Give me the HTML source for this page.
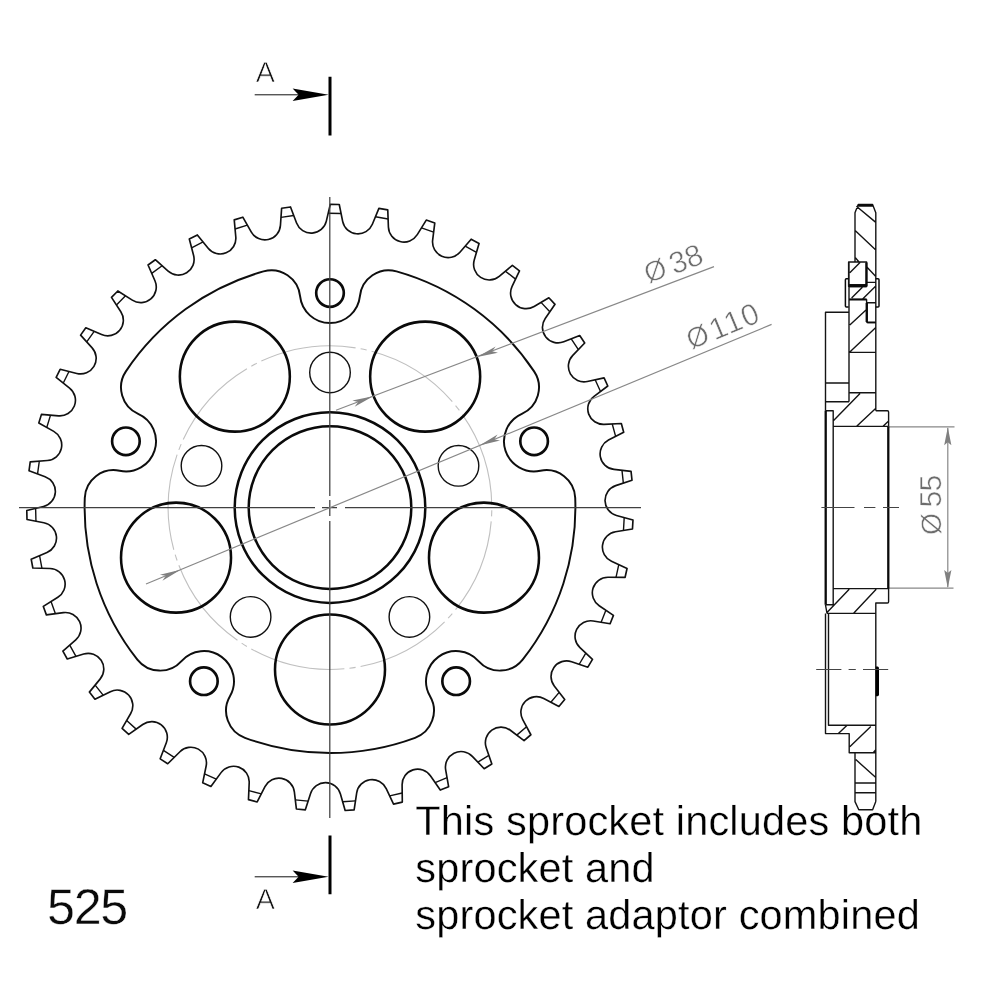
<!DOCTYPE html>
<html lang="en">
<head>
<meta charset="utf-8">
<title>Sprocket 525 drawing</title>
<style>
html,body{margin:0;padding:0;background:#fff;}
body{width:1000px;height:1000px;overflow:hidden;font-family:"Liberation Sans",sans-serif;}
svg{display:block;}
text{text-rendering:geometricPrecision;}
svg{filter:grayscale(1);}
</style>
</head>
<body>
<svg width="1000" height="1000" viewBox="0 0 1000 1000">
<rect width="1000" height="1000" fill="#fff"/>
<path d="M330.26,204.37L339.26,204.51L342.65,221.32A15.6,15.6 0 0 0 372.36,224.19L378.9,208.34L387.76,209.92L388.4,227.06A15.6,15.6 0 0 0 417.27,234.66L426.27,220.06L434.76,223.04L432.65,240.06A15.6,15.6 0 0 0 459.93,252.19L471.15,239.22L479.05,243.53L474.24,259.99A15.6,15.6 0 0 0 499.22,276.34L512.38,265.34L519.48,270.86L512.09,286.34A15.6,15.6 0 0 0 534.12,306.48L548.87,297.73L555.01,304.32L545.22,318.41A15.6,15.6 0 0 0 563.74,341.83L579.71,335.56L584.7,343.05L572.78,355.38A15.6,15.6 0 0 0 587.3,381.47L604.07,377.84L607.8,386.03L594.06,396.3A15.6,15.6 0 0 0 604.2,424.38L621.33,423.49L623.7,432.17L608.49,440.1A15.6,15.6 0 0 0 614,469.44L631.05,471.31L632,480.26L615.71,485.65A15.6,15.6 0 0 0 616.45,515.49L632.98,520.07L632.47,529.06L615.53,531.76A15.6,15.6 0 0 0 611.47,561.34L627.05,568.51L625.11,577.3L607.96,577.25A15.6,15.6 0 0 0 599.21,605.79L613.43,615.37L610.11,623.74L593.19,620.94A15.6,15.6 0 0 0 579.97,647.71L592.48,659.44L587.85,667.17L571.6,661.69A15.6,15.6 0 0 0 554.26,685.99L564.72,699.58L558.92,706.46L543.75,698.45A15.6,15.6 0 0 0 522.74,719.65L530.88,734.75L524.05,740.61L510.37,730.27A15.6,15.6 0 0 0 486.23,747.82L491.85,764.03L484.16,768.72L472.32,756.32A15.6,15.6 0 0 0 445.67,769.77L448.62,786.67L440.28,790.07L430.58,775.92A15.6,15.6 0 0 0 402.11,784.93L402.31,802.08L393.54,804.1L386.23,788.58A15.6,15.6 0 0 0 356.69,792.91L354.14,809.87L345.16,810.45L340.43,793.97A15.6,15.6 0 0 0 310.58,793.5L305.34,809.83L296.38,808.96L294.36,791.93A15.6,15.6 0 0 0 264.97,786.68L257.18,801.96L248.47,799.67L249.21,782.53A15.6,15.6 0 0 0 221.05,772.63L210.9,786.47L202.68,782.81L206.15,766.01A15.6,15.6 0 0 0 179.94,751.72L167.71,763.75L160.18,758.82L166.31,742.8A15.6,15.6 0 0 0 142.73,724.49L128.72,734.4L122.08,728.33L130.7,713.49A15.6,15.6 0 0 0 110.36,691.64L94.95,699.17L89.37,692.11L100.25,678.86A15.6,15.6 0 0 0 83.68,654.03L67.26,658.99L62.88,651.12L75.75,639.79A15.6,15.6 0 0 0 63.38,612.62L46.38,614.88L43.32,606.42L57.84,597.29A15.6,15.6 0 0 0 49.99,568.49L32.84,568L31.18,559.15L46.98,552.47A15.6,15.6 0 0 0 43.85,522.78L27,519.55L26.78,510.55L43.45,506.49A15.6,15.6 0 0 0 45.12,476.68L29.01,470.79L30.23,461.87L47.34,460.54A15.6,15.6 0 0 0 53.77,431.39L38.81,422.98L41.45,414.38L58.55,415.81A15.6,15.6 0 0 0 69.57,388.06L56.16,377.37L60.14,369.3L76.79,373.45A15.6,15.6 0 0 0 92.12,347.83L80.59,335.13L85.82,327.8L101.58,334.57A15.6,15.6 0 0 0 120.83,311.74L111.49,297.35L117.83,290.96L132.3,300.17A15.6,15.6 0 0 0 154.95,280.73L148.05,265.02L155.32,259.73L168.13,271.14A15.6,15.6 0 0 0 193.61,255.58L189.31,238.98L197.35,234.92L208.16,248.24A15.6,15.6 0 0 0 235.8,236.97L234.23,219.89L242.81,217.17L251.34,232.05A15.6,15.6 0 0 0 280.44,225.36L281.62,208.25L290.52,206.95L296.56,223A15.6,15.6 0 0 0 326.35,221.07Z" fill="none" stroke="#111" stroke-width="1.65" stroke-linejoin="round"/>
<path d="M328.19,213.24L341.06,213.44M375.43,216.76L388.1,219.02M421.5,227.81L433.64,232.08M465.19,246.11L476.5,252.27M505.39,271.18L515.56,279.08M541.04,302.38L549.81,311.8M571.23,338.89L578.37,349.6M595.17,379.77L600.5,391.49M612.24,423.96L615.63,436.38M622,470.32L623.35,483.12M624.2,517.64L623.48,530.5M618.78,564.7L616.01,577.28M605.88,610.29L601.13,622.25M585.83,653.21L579.22,664.26M559.16,692.36L550.87,702.21M526.56,726.73L516.79,735.12M488.86,755.42L477.87,762.13M447.05,777.7L435.13,782.56M402.21,792.98L389.66,795.86M355.49,800.86L342.65,801.7M308.12,801.16L295.31,799.92M261.32,793.85L248.86,790.57M216.29,779.12L204.52,773.89M174.21,757.36L163.43,750.31M136.16,729.14L126.66,720.45M103.13,695.17L95.15,685.08M75.98,656.35L69.72,645.1M55.41,613.68L51.03,601.57M41.95,568.26L39.57,555.6M35.95,521.27L35.63,508.39M37.56,473.92L39.32,461.16M46.75,427.44L50.53,415.14M63.28,383.05L68.98,371.5M86.71,341.87L94.19,331.39M116.45,304.99L125.51,295.85M151.71,273.36L162.13,265.79M191.6,247.8L203.09,241.99M235.06,228.96L247.34,225.07M280.99,217.34L293.73,215.47" fill="none" stroke="#111" stroke-width="1.4"/>
<path d="M263.49,271.38A28.9,28.9 0 0 1 300.07,296.16A30.1,30.1 0 0 0 359.93,296.16A28.9,28.9 0 0 1 396.51,271.38A245.4,245.4 0 0 1 534.1,371.35A28.9,28.9 0 0 1 521.84,413.79A30.1,30.1 0 0 0 540.34,470.73A28.9,28.9 0 0 1 575.21,497.86A245.4,245.4 0 0 1 522.65,659.61A28.9,28.9 0 0 1 478.5,661.06A30.1,30.1 0 0 0 430.06,696.25A28.9,28.9 0 0 1 415.04,737.79A245.4,245.4 0 0 1 244.96,737.79A28.9,28.9 0 0 1 229.94,696.25A30.1,30.1 0 0 0 181.5,661.06A28.9,28.9 0 0 1 137.35,659.61A245.4,245.4 0 0 1 84.79,497.86A28.9,28.9 0 0 1 119.66,470.73A30.1,30.1 0 0 0 138.16,413.79A28.9,28.9 0 0 1 125.9,371.35A245.4,245.4 0 0 1 263.49,271.38Z" fill="none" stroke="#0e0e0e" stroke-width="1.95"/>
<path d="M360.6,348.72A161.8,161.8 0 0 1 366.67,350.01M371.6,351.24A161.8,161.8 0 0 1 452.3,401.66M455.56,405.56A161.8,161.8 0 0 1 459.39,410.45M462.38,414.56A161.8,161.8 0 0 1 491.78,505.06M491.78,510.14A161.8,161.8 0 0 1 491.56,516.35M491.21,521.42A161.8,161.8 0 0 1 455.56,609.64M452.3,613.54A161.8,161.8 0 0 1 448.14,618.15M444.61,621.81A161.8,161.8 0 0 1 360.6,666.48M355.59,667.36A161.8,161.8 0 0 1 349.44,668.23M344.38,668.76A161.8,161.8 0 0 1 251.31,648.98M246.91,646.43A161.8,161.8 0 0 1 241.64,643.14M237.43,640.3A161.8,161.8 0 0 1 178.85,565.32M177.11,560.54A161.8,161.8 0 0 1 175.19,554.64M173.79,549.75A161.8,161.8 0 0 1 177.11,454.66M178.85,449.88A161.8,161.8 0 0 1 181.17,444.12M183.24,439.48A161.8,161.8 0 0 1 246.91,368.77M251.31,366.22A161.8,161.8 0 0 1 256.8,363.31M261.36,361.08A161.8,161.8 0 0 1 355.59,347.84" fill="none" stroke="#c0c0c0" stroke-width="1.1"/>
<circle cx="425.16" cy="376.62" r="55" fill="none" stroke="#0a0a0a" stroke-width="2.55"/>
<circle cx="483.98" cy="557.63" r="55" fill="none" stroke="#0a0a0a" stroke-width="2.55"/>
<circle cx="330" cy="669.5" r="55" fill="none" stroke="#0a0a0a" stroke-width="2.55"/>
<circle cx="176.02" cy="557.63" r="55" fill="none" stroke="#0a0a0a" stroke-width="2.55"/>
<circle cx="234.84" cy="376.62" r="55" fill="none" stroke="#0a0a0a" stroke-width="2.55"/>
<circle cx="330" cy="372.5" r="20.3" fill="none" stroke="#111" stroke-width="1.4"/>
<circle cx="458.49" cy="465.85" r="20.3" fill="none" stroke="#111" stroke-width="1.4"/>
<circle cx="409.41" cy="616.9" r="20.3" fill="none" stroke="#111" stroke-width="1.4"/>
<circle cx="250.59" cy="616.9" r="20.3" fill="none" stroke="#111" stroke-width="1.4"/>
<circle cx="201.51" cy="465.85" r="20.3" fill="none" stroke="#111" stroke-width="1.4"/>
<circle cx="330" cy="293" r="13.8" fill="none" stroke="#0a0a0a" stroke-width="2.65"/>
<circle cx="534.1" cy="441.28" r="13.8" fill="none" stroke="#0a0a0a" stroke-width="2.65"/>
<circle cx="456.14" cy="681.22" r="13.8" fill="none" stroke="#0a0a0a" stroke-width="2.65"/>
<circle cx="203.86" cy="681.22" r="13.8" fill="none" stroke="#0a0a0a" stroke-width="2.65"/>
<circle cx="125.9" cy="441.28" r="13.8" fill="none" stroke="#0a0a0a" stroke-width="2.65"/>
<circle cx="330" cy="507.6" r="81.3" fill="none" stroke="#0a0a0a" stroke-width="2.5"/>
<circle cx="330" cy="507.6" r="95.3" fill="none" stroke="#0a0a0a" stroke-width="2.5"/>
<path d="M19,507.6 H315 M322,507.6 H337 M345,507.6 H641 M329.8,197 V496 M329.8,500 V516 M329.8,521 V818" fill="none" stroke="#404040" stroke-width="1.25"/>
<path d="M146,584L771.6,324.4" stroke="#888888" stroke-width="1.2" fill="none"/>
<path d="M180.57,569.65L162.44,580.75L165.79,575.78L159.91,574.65Z" fill="#808080"/>
<path d="M479.43,445.55L497.56,434.45L494.21,439.42L500.09,440.55Z" fill="#808080"/>
<path d="M336,410.31L714,266.6" stroke="#888888" stroke-width="1.2" fill="none"/>
<path d="M373.15,396.27L354.67,406.78L358.18,401.93L352.34,400.61Z" fill="#808080"/>
<path d="M477.17,356.97L495.65,346.46L492.14,351.31L497.98,352.63Z" fill="#808080"/>
<text x="648.8" y="284.3" transform="rotate(-21 648.8 284.3)" font-family="'Liberation Sans', sans-serif" font-size="30.4" fill="#6c6c6c" stroke="#fff" stroke-width="0.55" paint-order="fill"><tspan font-size="28.2" dy="-0.8">Ø</tspan><tspan dx="5" dy="0.8" letter-spacing="-0.3">38</tspan></text>
<text x="691.5" y="350.4" transform="rotate(-22.7 691.5 350.4)" font-family="'Liberation Sans', sans-serif" font-size="30.4" fill="#6c6c6c" stroke="#fff" stroke-width="0.55" paint-order="fill"><tspan font-size="28.2" dy="-0.8">Ø</tspan><tspan dx="3.1" dy="0.8" letter-spacing="1.2">110</tspan></text>
<path d="M889,426.9H954.5 M889,588.2H953.5 M947.8,428V587" stroke="#888888" stroke-width="1.2" fill="none"/>
<path d="M947.8,427.2L951.4,445.2L947.8,442.2L944.2,445.2Z" fill="#808080"/>
<path d="M947.8,588L944.2,570L947.8,573L951.4,570Z" fill="#808080"/>
<text x="941.4" y="534.9" transform="rotate(-90 941.4 534.9)" font-family="'Liberation Sans', sans-serif" font-size="30.4" fill="#6c6c6c" stroke="#fff" stroke-width="0.55" paint-order="fill"><tspan font-size="28.2" dy="-0.8">Ø</tspan><tspan dx="5.4" dy="0.8" letter-spacing="-0.8">55</tspan></text>
<path d="M330,76.7V135.5 M330,835.5V894.3" stroke="#000" stroke-width="3" fill="none"/>
<path d="M254.7,94.8H300 M254.7,876.8H300" stroke="#111" stroke-width="1" fill="none"/>
<path d="M328.6,94.8L292.6,101.1L298.6,94.8L292.6,88.5Z" fill="#000"/>
<path d="M328.6,876.8L292.6,883.1L298.6,876.8L292.6,870.5Z" fill="#000"/>
<text x="255.8" y="82.2" font-family="'Liberation Sans', sans-serif" font-size="28.8" fill="#111" stroke="#fff" stroke-width="0.7" paint-order="fill">A</text>
<text x="255.8" y="908.5" font-family="'Liberation Sans', sans-serif" font-size="28.8" fill="#111" stroke="#fff" stroke-width="0.7" paint-order="fill">A</text>
<path d="M855,262 V212.8 L858.2,204.4 H872.6 L875.8,212.8 V410.8 M857.6,205.9 H873.2 M856.4,206.2 L875.8,222.4 M855.4,230.8 L875.8,250 M855.4,257.8 L859,262 M866.6,266.8 L875.8,276.6 M848.6,262 H866.6 V286.6 H848.6 Z M848.6,284.8 H866.6 M849.8,272.8 L860,262.6 M866.6,282.4 H875.8 M851.6,298 L862.4,287.2 M862.4,299.2 L875.8,286 M848.6,299.2 H866.6 M866.6,299.2 V321.5 Q866.6,322.6 867.8,322.6 H875.8 M866.6,302.8 H875.8 M849,312.2 H825.5 V410.8 M849,262 V401.8 M849,352.4 H875.8 M825.5,383 H849 M849,392.8 H875.8 M825.5,401.8 H849 M849.8,325 L866,310 M849.8,352 L875.8,327.4 M875.8,410.8 H887.4 Q888.6,410.8 888.6,412 V426.4 M833.4,426.4 H888.6 M825.5,410.8 H833.2 V604.8 H825.5 M833.6,420.4 L860,393.4 M856.4,426.4 L875.6,408.4 M882.8,426.4 L888.6,421 M833.2,588.6 H888.6 V601.8 Q888.6,603 887.4,603 H875.8 V801.6 M827,613.4 H875.8 M825.5,605 L827,613.4 M827,612.6 L849.2,589.2 M853.4,613.4 L876.2,589.2 M825.5,613.4 V733.6 H849.2 V752.8 H875.8 M828.5,613.4 V725.2 H875.8 M838.4,733.6 L846.8,725.4 M849.8,746.8 L870.8,726.4 M873.2,752.8 L875.8,749.8 M855,753 V801.6 L858.8,809.8 H872.6 L875.8,801.6 M855,783 H875.8 M855,792.8 H875.8 M855.8,759.6 L875.8,777.6" fill="none" stroke="#141414" stroke-width="1.4" stroke-linejoin="round"/>
<path d="M848.6,278.8 H846.4 Q845.4,278.8 845.4,279.8 V306 Q845.4,307 846.4,307 H848.6 M875.8,278.8 H878 Q879,278.8 879,279.8 V306 Q879,307 878,307 H875.8" fill="none" stroke="#0a0a0a" stroke-width="1.5" stroke-linejoin="round"/>
<path d="M849,299.6 H866.6 M866.8,322.4 H875.6" fill="none" stroke="#0a0a0a" stroke-width="1.9"/>
<path d="M825.7,410.8 V604.8 M888.3,426.4 V588.6 M866.4,262.6 V286.2 M849,286 H866.4 M866.8,303 V322 M858,205.3 H873" fill="none" stroke="#0a0a0a" stroke-width="2.3"/>
<path d="M875.8,666.4 H877.6 Q879,666.4 879,668.4 V694.2 Q879,696.2 877.6,696.2 H875.8 Z" fill="#000"/>
<path d="M821.4,507.5 H854.5 M864,507.5 H875.4 M883,507.5 H899 M816.2,669.5 H841.4 M848.6,669.5 H855.8 M863,669.5 H888.2" fill="none" stroke="#444" stroke-width="1"/>
<text x="47.1" y="923.8" font-family="'Liberation Sans', sans-serif" font-size="50.2" letter-spacing="-1.35" fill="#0a0a0a" stroke="#fff" stroke-width="0.4" paint-order="fill">525</text>
<text x="415.3" y="835" font-family="'Liberation Sans', sans-serif" font-size="41.5" letter-spacing="0.16" fill="#000" stroke="#fff" stroke-width="0.35" paint-order="fill">This sprocket includes both</text>
<text x="415.3" y="882.1" font-family="'Liberation Sans', sans-serif" font-size="41.5" letter-spacing="0.16" fill="#000" stroke="#fff" stroke-width="0.35" paint-order="fill">sprocket and</text>
<text x="415.3" y="929.2" font-family="'Liberation Sans', sans-serif" font-size="41.5" letter-spacing="0.16" fill="#000" stroke="#fff" stroke-width="0.35" paint-order="fill">sprocket adaptor combined</text>
</svg>
</body>
</html>
